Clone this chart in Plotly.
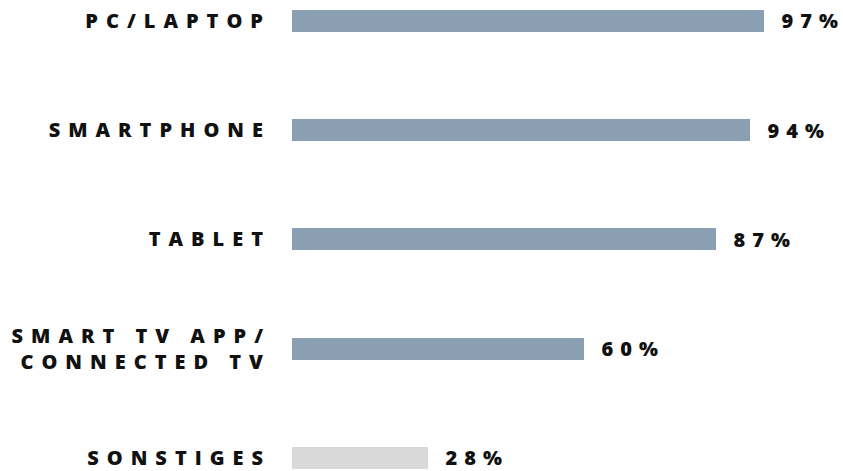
import plotly.graph_objects as go

categories = ["PC/LAPTOP", "SMARTPHONE", "TABLET", "SMART TV APP/<br>CONNECTED TV", "SONSTIGES"]
values = [97, 94, 87, 60, 28]
value_labels = ["97%", "94%", "87%", "60%", "28%"]
bar_colors = ["#8a9fb2", "#8a9fb2", "#8a9fb2", "#8a9fb2", "#d9d9d9"]

FONT = "Open Sans, Segoe UI, sans-serif"

fig = go.Figure()
fig.add_trace(go.Bar(
    x=values,
    y=categories,
    orientation="h",
    marker=dict(color=bar_colors, line=dict(width=0)),
    width=0.2,
    hoverinfo="skip",
))

for cat, v, lab in zip(categories, values, value_labels):
    fig.add_annotation(
        x=v, y=cat, text=lab, showarrow=False,
        xanchor="left", yanchor="middle", xshift=26,
        font=dict(family=FONT, size=20, color="#111111", weight=800),
    )

fig.update_layout(
    width=843, height=471,
    margin=dict(l=292, r=64, t=0, b=0, autoexpand=False),
    paper_bgcolor="white", plot_bgcolor="white",
    showlegend=False,
    bargap=0,
    xaxis=dict(range=[0, 100], visible=False, fixedrange=True, automargin=False),
    yaxis=dict(
        type="category", automargin=False, fixedrange=True,
        categoryorder="array", categoryarray=categories,
        range=[4.12, -0.19],
        showgrid=False, zeroline=False, showline=False,
        ticks="", ticklabelstandoff=20,
        tickfont=dict(family=FONT, size=20, color="#111111", weight=800),
    ),
)

post = """
document.body.style.margin = '0';
document.body.style.padding = '0';
var s = document.createElement('style');
s.innerHTML = 'body{margin:0;padding:0;} .ytick text, .ytick tspan { letter-spacing: 8px; } .annotation-text, .annotation-text tspan { letter-spacing: 7px; }';
document.head.appendChild(s);
"""

fig.write_html("out.html", post_script=post, config={"displayModeBar": False})
